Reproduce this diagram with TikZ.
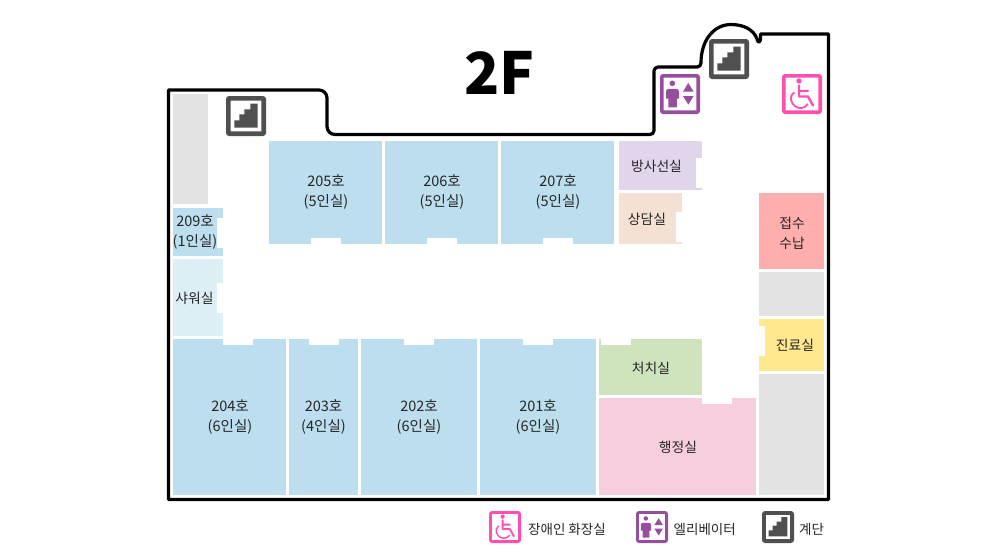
\documentclass[tikz,border=0pt]{standalone}
\usepackage{fontspec}
\setmainfont{Noto Sans CJK KR}
\definecolor{roomblue}{HTML}{BDDEEE}
\definecolor{showerblue}{HTML}{DDEEF5}
\definecolor{roomgray}{HTML}{E3E3E3}
\definecolor{roompurple}{HTML}{E1D5EC}
\definecolor{roompeach}{HTML}{F5E1D3}
\definecolor{roomred}{HTML}{FFAEAE}
\definecolor{roomyellow}{HTML}{FFE88E}
\definecolor{roomgreen}{HTML}{CFE4BC}
\definecolor{roompink}{HTML}{F7CEDD}
\definecolor{iconstair}{HTML}{505050}
\definecolor{iconlift}{HTML}{964F9E}
\definecolor{iconwc}{HTML}{FF50B0}
\def\iconframe#1#2{\fill[#1, rounded corners=3pt, even odd rule] (0,0) rectangle (40,40) [sharp corners] (#2,#2) rectangle (40-#2,40-#2);}
\tikzset{
	wall/.style={line width=3.2pt, line join=round},
	gap/.style={fill=white},
	label/.style={font=\fontsize{14.5}{20}\selectfont, text=black!85, align=center, inner sep=0pt},
	wordlabel/.style={label, font=\fontsize{13.8}{20}\selectfont},
	legend/.style={font=\fontsize{13.5}{18}\selectfont, text=black!85, inner sep=0pt},
	stairicon/.pic={
		\iconframe{iconstair}{4.7}
		\fill[iconstair] (8.3,31.7) -- (8.3,24.3) -- (13.3,24.3) -- (13.3,18.3) -- (18.3,18.3) -- (18.3,13.3) -- (24.3,13.3) -- (24.3,7.7) -- (31.7,7.7) -- (31.7,31.7) -- cycle;
	},
	lifticon/.pic={
		\iconframe{iconlift}{3.7}
		\fill[iconlift] (12.3,9.3) circle (2.8);
		\fill[iconlift] (6,24.5) -- (6,17.5) .. controls (6,15.5) and (7.5,14.8) .. (9,14.8) -- (16,14.8) .. controls (17.5,14.8) and (19,15.5) .. (19,17.5) -- (19,24.5) -- (16.8,24.5) -- (16.8,33.3) -- (8.4,33.3) -- (8.4,24.5) -- cycle;
		\fill[iconlift] (23,17.5) -- (28.3,9) -- (33.6,17.5) -- cycle;
		\fill[iconlift] (23,22) -- (28.3,30.6) -- (33.6,22) -- cycle;
	},
	wcicon/.pic={
		\iconframe{iconwc}{3.7}
		\fill[iconwc] (17,7) circle (2.7);
		\draw[iconwc, line width=2.4pt*#1, line join=round, line cap=round] (17,11.5) -- (17,22.5) -- (26,22.5) -- (31,31.5) (17,17) -- (26,17);
		\draw[iconwc, line width=1.8pt*#1] (12.5,18.5) .. controls (9,20) and (8.5,24) .. (9.2,26.5) .. controls (10.5,31.5) and (15,34.5) .. (19.5,34) .. controls (22,33.7) and (24.5,32.3) .. (26,30);
	}
}

\begin{document}
\begin{tikzpicture}[x=1pt, y=-1pt]
	\useasboundingbox (0,0) rectangle (986,555);
	
	%%%%% rooms %%%%%
	\fill[roomgray] (173,94) rectangle (208,204);
	\fill[roomblue] (173,208) rectangle (223,256);
	\fill[gap] (217,218) rectangle (223,248);
	\fill[showerblue] (173,259) rectangle (223,336);
	\fill[gap] (217,283) rectangle (223,313);
	
	\fill[roomblue] (269,141) rectangle (382,244);
	\fill[gap] (311,238) rectangle (341,244);
	\fill[roomblue] (385,141) rectangle (498,244);
	\fill[gap] (427,238) rectangle (457,244);
	\fill[roomblue] (501,141) rectangle (614,244);
	\fill[gap] (543,238) rectangle (573,244);
	
	\fill[roomblue] (173,339) rectangle (286,495);
	\fill[gap] (223,339) rectangle (253,345);
	\fill[roomblue] (289,339) rectangle (358,495);
	\fill[gap] (309,339) rectangle (339,345);
	\fill[roomblue] (361,339) rectangle (477,495);
	\fill[gap] (404,339) rectangle (434,345);
	\fill[roomblue] (480,339) rectangle (596,495);
	\fill[gap] (523,339) rectangle (553,345);
	
	\fill[roompurple] (619,141) rectangle (702,190);
	\fill[gap] (696,158) rectangle (702,188);
	\fill[roompeach] (619,193) rectangle (682,244);
	\fill[gap] (676,212) rectangle (682,242);
	\fill[roomgreen] (599,339) rectangle (702,395);
	\fill[gap] (601,339) rectangle (631,345);
	\fill[roompink] (599,398) rectangle (756,495);
	\fill[gap] (702,398) rectangle (732,404);
	
	\fill[roomred] (759,193) rectangle (824,269);
	\fill[roomgray] (759,272) rectangle (824,316);
	\fill[roomyellow] (759,319) rectangle (824,371);
	\fill[gap] (759,326) rectangle (765,356);
	\fill[roomgray] (759,374) rectangle (824,495);
	
	%%%%% outer wall %%%%%
	\draw[wall] (168.5,499.5) -- (168.5,90) [rounded corners=8pt] -- (327,90) -- (327,134.5) [rounded corners=4pt] -- (654,134.5) -- (654,67) -- (701,67) [sharp corners] .. controls (701,40) and (714,24.5) .. (731,24.5) .. controls (744,24.5) and (754,30) .. (757,39) .. controls (758,43) and (760,43) .. (760.5,39) -- (760.5,34) -- (828.5,34) -- (828.5,499.5) -- cycle;
	
	%%%%% labels %%%%%
	\node[font=\fontsize{58}{58}\selectfont\bfseries, inner sep=0pt] (title) at (499.5,73) {2F};
	
	\node[label] (r205) at (326,192) {205호\\(5인실)};
	\node[label] (r206) at (442,192) {206호\\(5인실)};
	\node[label] (r207) at (558,192) {207호\\(5인실)};
	\node[label] (r209) at (195,232) {209호\\(1인실)};
	\node[wordlabel] (shower) at (194.5,298) {샤워실};
	\node[label] (r204) at (230,417) {204호\\(6인실)};
	\node[label] (r203) at (323.5,417) {203호\\(4인실)};
	\node[label] (r202) at (419,417) {202호\\(6인실)};
	\node[label] (r201) at (538,417) {201호\\(6인실)};
	\node[wordlabel] (xray) at (656.5,166) {방사선실};
	\node[wordlabel] (consult) at (647,219) {상담실};
	\node[wordlabel] (treat) at (651,368) {처치실};
	\node[wordlabel] (admin) at (678,447) {행정실};
	\node[wordlabel] (desk) at (792,233) {접수\\수납};
	\node[wordlabel] (clinic) at (795,345) {진료실};
	
	%%%%% icons %%%%%
	\pic at (226,96) {stairicon};
	\pic at (709,39) {stairicon};
	\pic at (660,74) {lifticon};
	\pic at (782,74) {wcicon=1};
	
	%%%%% legend %%%%%
	\pic[scale=0.8] at (489,511) {wcicon=0.8};
	\node[legend, anchor=west] (lgwc) at (528,529) {장애인 화장실};
	\pic[scale=0.8] at (636,511) {lifticon};
	\node[legend, anchor=west] (lglift) at (673.5,529) {엘리베이터};
	\pic[scale=0.8] at (762,511) {stairicon};
	\node[legend, anchor=west] (lgstair) at (799,529) {계단};
\end{tikzpicture}
\end{document}
